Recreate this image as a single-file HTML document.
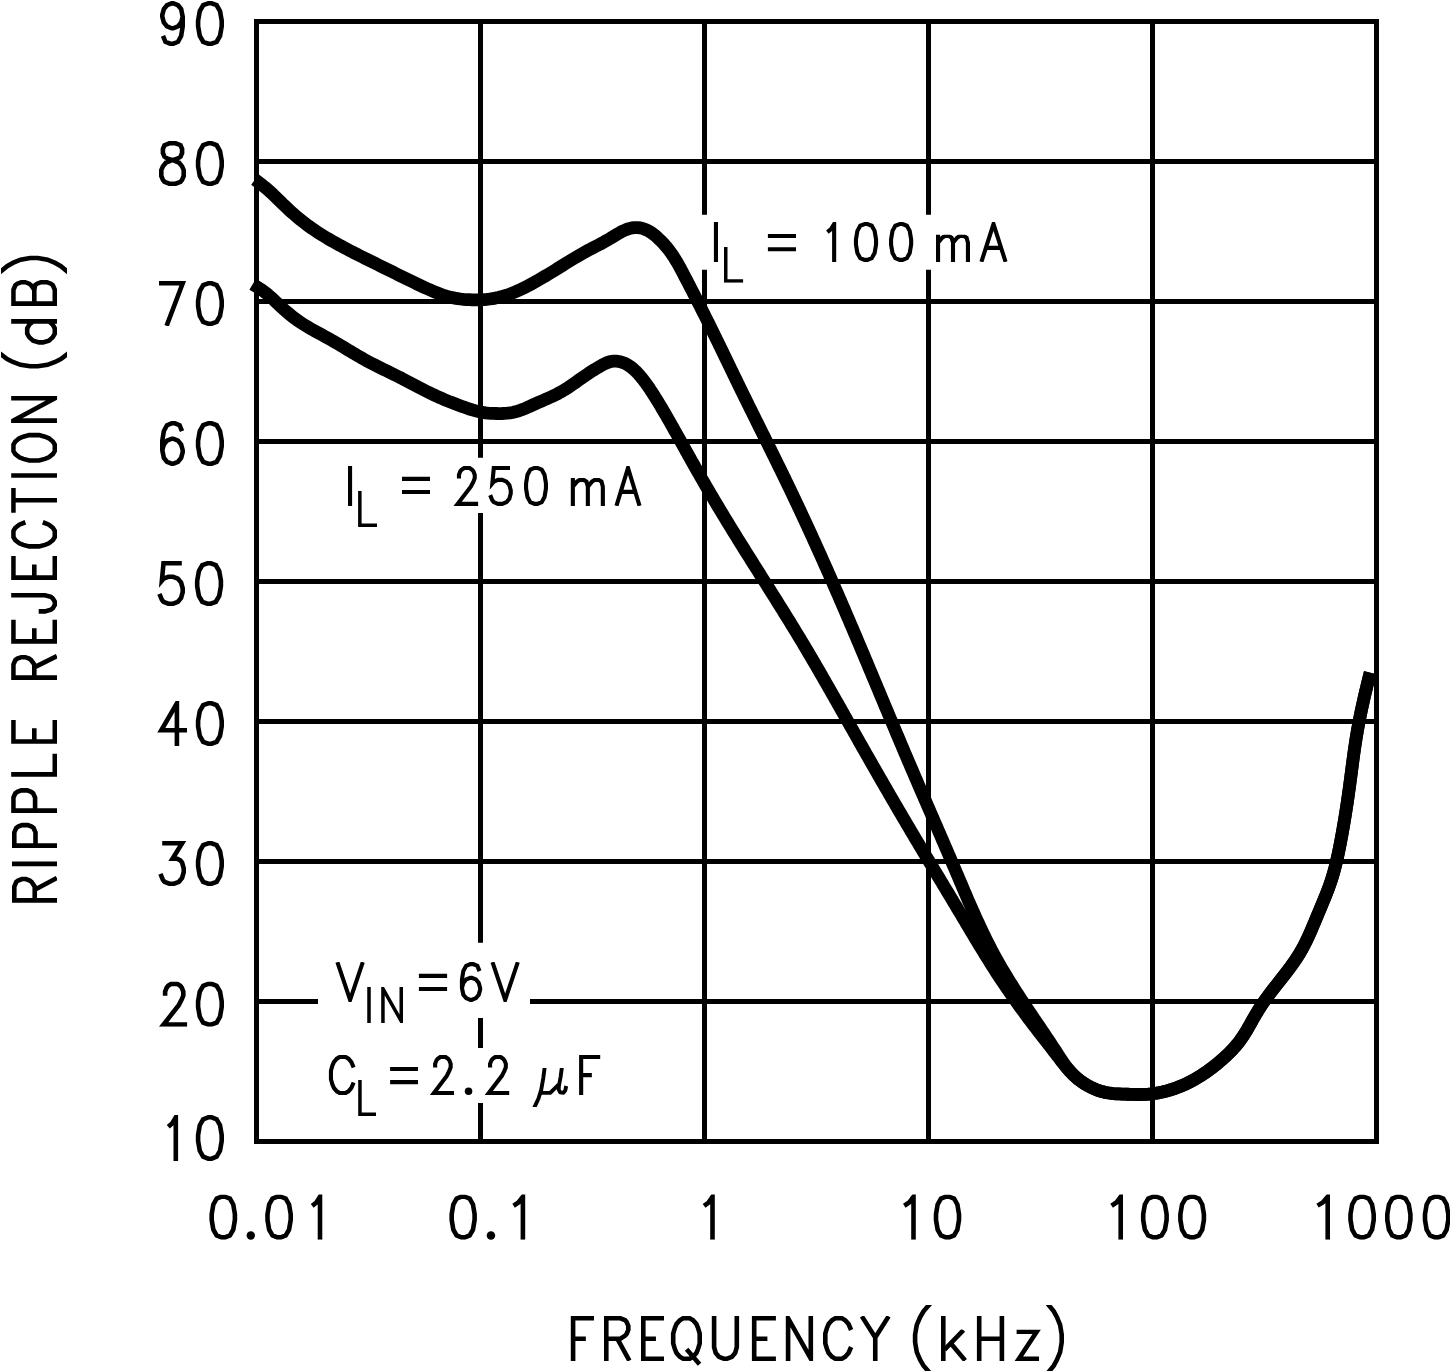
<!DOCTYPE html>
<html lang="en">
<head>
<meta charset="utf-8">
<title>Ripple Rejection vs Frequency</title>
<style>
html,body{margin:0;padding:0;background:#fff;}
body{width:1450px;height:1371px;overflow:hidden;font-family:"Liberation Sans",sans-serif;}
svg{display:block;}
.t{font-family:"Liberation Sans",sans-serif;fill:#000;fill-opacity:0;}
</style>
</head>
<body>
<svg width="1450" height="1371" viewBox="0 0 1450 1371" shape-rendering="geometricPrecision">
<rect x="0" y="0" width="1450" height="1371" fill="#fff"/>
<path d="M254 21.5H1379 M254 1141.5H1379 M256.5 19V1144 M1376.5 19V1144 M256.5 301.5H1376.5 M256.5 441.5H1376.5 M256.5 581.5H1376.5 M256.5 721.5H1376.5 M256.5 861.5H1376.5 M256.5 161.5H1376.5 M256.5 1001.5H318 M530 1001.5H1376.5 M480.5 21.5V457.7 M480.5 513.1V942.8 M480.5 1018.1V1047.9 M480.5 1103V1141.5 M704.5 21.5V214.7 M704.5 269.8V1141.5 M928.5 21.5V214.7 M928.5 269.8V1141.5 M1152.5 21.5V1141.5" fill="none" stroke="#000" stroke-width="5"/>
<path d="M255.05 179.61 L256.7 180.86 L259.02 182.62 L261.31 184.4 L263.59 186.21 L265.83 188.05 L268.04 189.93 L270.22 191.85 L272.35 193.81 L274.46 195.81 L276.54 197.83 L278.62 199.86 L280.69 201.9 L282.76 203.94 L284.85 205.96 L286.96 207.97 L289.09 209.95 L291.24 211.9 L293.41 213.83 L295.61 215.73 L297.84 217.61 L300.08 219.45 L302.35 221.27 L304.64 223.05 L306.96 224.8 L309.3 226.52 L311.67 228.2 L314.06 229.85 L316.47 231.47 L318.9 233.06 L321.35 234.61 L323.82 236.14 L326.3 237.65 L328.8 239.13 L331.32 240.59 L333.85 242.03 L336.39 243.45 L338.94 244.85 L341.49 246.23 L344.06 247.6 L346.63 248.96 L349.21 250.31 L351.79 251.64 L354.38 252.97 L356.97 254.28 L359.56 255.59 L362.16 256.89 L364.76 258.19 L367.36 259.48 L369.96 260.77 L372.57 262.05 L375.17 263.34 L377.77 264.62 L380.37 265.9 L382.97 267.19 L385.57 268.48 L388.17 269.77 L390.77 271.06 L393.36 272.35 L395.95 273.64 L398.55 274.94 L401.15 276.23 L403.75 277.51 L406.35 278.8 L408.96 280.07 L411.57 281.34 L414.19 282.61 L416.81 283.86 L419.44 285.11 L422.08 286.35 L424.73 287.57 L427.38 288.78 L430.05 289.97 L432.73 291.13 L435.42 292.24 L438.13 293.31 L440.86 294.32 L443.61 295.26 L446.38 296.12 L449.17 296.89 L451.99 297.57 L454.83 298.14 L457.69 298.61 L460.58 299 L463.47 299.3 L466.37 299.53 L469.28 299.69 L472.19 299.79 L475.1 299.84 L478.01 299.82 L480.91 299.73 L483.81 299.56 L486.71 299.32 L489.59 298.99 L492.47 298.58 L495.34 298.08 L498.19 297.49 L501.02 296.81 L503.82 296.04 L506.59 295.18 L509.34 294.23 L512.05 293.2 L514.74 292.1 L517.41 290.94 L520.05 289.73 L522.68 288.46 L525.28 287.17 L527.87 285.84 L530.44 284.48 L533 283.1 L535.54 281.69 L538.07 280.27 L540.59 278.82 L543.09 277.35 L545.59 275.87 L548.08 274.38 L550.56 272.87 L553.04 271.35 L555.51 269.82 L557.97 268.29 L560.44 266.75 L562.9 265.21 L565.37 263.68 L567.84 262.15 L570.31 260.63 L572.79 259.12 L575.28 257.62 L577.78 256.15 L580.3 254.69 L582.82 253.26 L585.37 251.86 L587.92 250.48 L590.49 249.12 L593.07 247.78 L595.65 246.44 L598.23 245.09 L600.8 243.73 L603.35 242.36 L605.89 240.95 L608.41 239.51 L610.9 238.03 L613.37 236.5 L615.83 234.98 L618.32 233.48 L620.86 232.06 L623.46 230.75 L626.15 229.58 L628.93 228.62 L631.77 227.92 L634.65 227.54 L637.56 227.54 L640.45 227.92 L643.29 228.65 L646.04 229.69 L648.66 230.99 L651.14 232.51 L653.5 234.21 L655.76 236.06 L657.94 238.01 L660.04 240.02 L662.09 242.1 L664.07 244.23 L665.98 246.42 L667.83 248.66 L669.6 250.96 L671.31 253.3 L672.94 255.7 L674.52 258.13 L676.04 260.6 L677.51 263.1 L678.95 265.63 L680.35 268.18 L681.73 270.75 L683.09 273.33 L684.44 275.91 L685.78 278.49 L687.13 281.07 L688.47 283.66 L689.81 286.24 L691.14 288.82 L692.48 291.4 L693.81 293.98 L695.14 296.56 L696.46 299.14 L697.79 301.72 L699.11 304.31 L700.42 306.89 L701.74 309.48 L703.04 312.07 L704.35 314.66 L705.65 317.25 L706.95 319.84 L708.24 322.44 L709.53 325.04 L710.81 327.64 L712.1 330.25 L713.38 332.85 L714.65 335.46 L715.93 338.07 L717.2 340.68 L718.47 343.29 L719.74 345.9 L721.01 348.51 L722.28 351.13 L723.54 353.74 L724.81 356.36 L726.07 358.97 L727.33 361.59 L728.6 364.21 L729.86 366.82 L731.13 369.44 L732.39 372.05 L733.66 374.67 L734.92 377.28 L736.19 379.9 L737.46 382.51 L738.73 385.12 L740 387.73 L741.28 390.34 L742.56 392.95 L743.84 395.56 L745.12 398.17 L746.4 400.77 L747.68 403.38 L748.97 405.98 L750.26 408.59 L751.55 411.19 L752.83 413.79 L754.12 416.39 L755.41 419 L756.71 421.6 L758 424.2 L759.29 426.8 L760.58 429.4 L761.87 432 L763.17 434.6 L764.46 437.2 L765.75 439.8 L767.04 442.4 L768.33 445.01 L769.62 447.61 L770.91 450.21 L772.19 452.81 L773.48 455.42 L774.76 458.02 L776.05 460.62 L777.33 463.23 L778.61 465.84 L779.89 468.44 L781.16 471.05 L782.44 473.66 L783.71 476.27 L784.98 478.88 L786.25 481.49 L787.51 484.11 L788.77 486.72 L790.03 489.34 L791.28 491.96 L792.54 494.58 L793.78 497.2 L795.03 499.82 L796.27 502.45 L797.51 505.07 L798.75 507.7 L799.99 510.33 L801.22 512.96 L802.45 515.59 L803.67 518.22 L804.89 520.85 L806.12 523.49 L807.33 526.12 L808.55 528.76 L809.76 531.4 L810.97 534.04 L812.18 536.68 L813.38 539.32 L814.59 541.97 L815.79 544.61 L816.98 547.26 L818.18 549.9 L819.37 552.55 L820.56 555.2 L821.75 557.85 L822.93 560.5 L824.12 563.15 L825.3 565.81 L826.48 568.46 L827.66 571.12 L828.83 573.77 L830 576.43 L831.17 579.09 L832.34 581.75 L833.51 584.41 L834.67 587.07 L835.84 589.73 L837 592.39 L838.16 595.06 L839.31 597.72 L840.47 600.39 L841.62 603.05 L842.77 605.72 L843.92 608.39 L845.07 611.06 L846.22 613.72 L847.36 616.39 L848.5 619.06 L849.65 621.73 L850.79 624.41 L851.93 627.08 L853.06 629.75 L854.2 632.42 L855.33 635.1 L856.47 637.77 L857.6 640.45 L858.73 643.12 L859.86 645.8 L860.99 648.48 L862.12 651.15 L863.24 653.83 L864.37 656.51 L865.49 659.18 L866.62 661.86 L867.74 664.54 L868.86 667.22 L869.99 669.9 L871.11 672.58 L872.23 675.26 L873.35 677.93 L874.47 680.61 L875.59 683.29 L876.72 685.97 L877.84 688.65 L878.96 691.33 L880.08 694.01 L881.2 696.69 L882.32 699.37 L883.44 702.05 L884.56 704.73 L885.68 707.41 L886.8 710.08 L887.92 712.76 L889.05 715.44 L890.17 718.12 L891.29 720.8 L892.42 723.47 L893.54 726.15 L894.67 728.83 L895.79 731.5 L896.92 734.18 L898.05 736.85 L899.18 739.53 L900.31 742.2 L901.44 744.88 L902.57 747.55 L903.7 750.22 L904.84 752.9 L905.97 755.57 L907.11 758.24 L908.25 760.91 L909.39 763.58 L910.53 766.25 L911.68 768.91 L912.82 771.58 L913.97 774.25 L915.11 776.91 L916.26 779.58 L917.41 782.24 L918.56 784.91 L919.72 787.57 L920.87 790.24 L922.02 792.9 L923.18 795.56 L924.33 798.23 L925.49 800.89 L926.64 803.55 L927.8 806.22 L928.96 808.88 L930.11 811.54 L931.27 814.2 L932.43 816.87 L933.58 819.53 L934.74 822.19 L935.9 824.86 L937.05 827.52 L938.21 830.19 L939.36 832.85 L940.52 835.51 L941.67 838.18 L942.82 840.85 L943.97 843.51 L945.12 846.18 L946.27 848.85 L947.42 851.52 L948.57 854.19 L949.72 856.86 L950.86 859.53 L952 862.2 L953.14 864.88 L954.28 867.55 L955.42 870.23 L956.56 872.9 L957.69 875.58 L958.83 878.26 L959.96 880.94 L961.1 883.61 L962.23 886.29 L963.37 888.97 L964.51 891.64 L965.66 894.32 L966.8 896.99 L967.95 899.66 L969.11 902.33 L970.27 904.99 L971.44 907.65 L972.61 910.31 L973.79 912.97 L974.98 915.62 L976.18 918.27 L977.38 920.91 L978.6 923.55 L979.82 926.18 L981.06 928.81 L982.3 931.43 L983.56 934.05 L984.83 936.65 L986.12 939.26 L987.41 941.85 L988.72 944.44 L990.05 947.02 L991.39 949.6 L992.74 952.16 L994.12 954.72 L995.51 957.26 L996.91 959.8 L998.34 962.33 L999.77 964.86 L1001.23 967.37 L1002.69 969.88 L1004.18 972.37 L1005.67 974.87 L1007.18 977.35 L1008.7 979.83 L1010.23 982.3 L1011.77 984.76 L1013.32 987.22 L1014.88 989.67 L1016.45 992.12 L1018.03 994.56 L1019.61 997 L1021.21 999.43 L1022.8 1001.86 L1024.41 1004.28 L1026.02 1006.7 L1027.63 1009.11 L1029.25 1011.52 L1030.87 1013.93 L1032.5 1016.33 L1034.12 1018.73 L1035.75 1021.13 L1037.38 1023.53 L1039 1025.93 L1040.63 1028.33 L1042.26 1030.74 L1043.88 1033.14 L1045.5 1035.55 L1047.12 1037.96 L1048.73 1040.38 L1050.33 1042.8 L1051.93 1045.23 L1053.53 1047.67 L1055.12 1050.11 L1056.7 1052.56 L1058.27 1055.02 L1059.86 1057.47 L1061.47 1059.9 L1063.11 1062.31 L1064.8 1064.68 L1066.53 1067 L1068.34 1069.27 L1070.22 1071.47 L1072.19 1073.6 L1074.25 1075.64 L1076.4 1077.6 L1078.64 1079.46 L1080.96 1081.23 L1083.35 1082.91 L1085.81 1084.48 L1088.34 1085.95 L1090.93 1087.31 L1093.58 1088.55 L1096.27 1089.67 L1099.01 1090.67 L1101.79 1091.52 L1104.6 1092.23 L1107.44 1092.79 L1110.31 1093.22 L1113.19 1093.54 L1116.09 1093.77 L1119 1093.94 L1121.92 1094.06 L1124.83 1094.16 L1127.75 1094.27 L1130.66 1094.36 L1133.57 1094.44 L1136.48 1094.49 L1139.38 1094.49 L1142.28 1094.45 L1145.17 1094.34 L1148.07 1094.15 L1150.95 1093.89 L1153.84 1093.53 L1156.71 1093.1 L1159.58 1092.58 L1162.43 1091.99 L1165.26 1091.31 L1168.08 1090.56 L1170.87 1089.74 L1173.64 1088.84 L1176.39 1087.88 L1179.11 1086.84 L1181.81 1085.74 L1184.47 1084.57 L1187.11 1083.34 L1189.72 1082.05 L1192.29 1080.7 L1194.83 1079.29 L1197.34 1077.83 L1199.82 1076.32 L1202.26 1074.75 L1204.67 1073.14 L1207.06 1071.48 L1209.41 1069.77 L1211.74 1068.03 L1214.04 1066.25 L1216.32 1064.43 L1218.58 1062.57 L1220.81 1060.69 L1223.01 1058.77 L1225.18 1056.81 L1227.32 1054.81 L1229.4 1052.78 L1231.44 1050.7 L1233.43 1048.57 L1235.36 1046.4 L1237.23 1044.18 L1239.03 1041.91 L1240.75 1039.59 L1242.41 1037.21 L1243.99 1034.79 L1245.53 1032.33 L1247.02 1029.84 L1248.48 1027.33 L1249.91 1024.8 L1251.34 1022.26 L1252.76 1019.71 L1254.19 1017.18 L1255.65 1014.66 L1257.13 1012.16 L1258.65 1009.68 L1260.21 1007.24 L1261.82 1004.82 L1263.46 1002.43 L1265.13 1000.05 L1266.83 997.7 L1268.56 995.37 L1270.3 993.04 L1272.07 990.73 L1273.85 988.43 L1275.64 986.14 L1277.44 983.85 L1279.25 981.56 L1281.05 979.27 L1282.85 976.98 L1284.64 974.68 L1286.42 972.37 L1288.18 970.05 L1289.92 967.72 L1291.64 965.37 L1293.32 963.01 L1294.97 960.62 L1296.57 958.21 L1298.14 955.77 L1299.65 953.31 L1301.12 950.82 L1302.53 948.29 L1303.9 945.74 L1305.22 943.16 L1306.5 940.56 L1307.75 937.94 L1308.96 935.3 L1310.15 932.65 L1311.32 929.98 L1312.47 927.31 L1313.61 924.62 L1314.74 921.93 L1315.86 919.24 L1316.98 916.55 L1318.1 913.86 L1319.23 911.17 L1320.36 908.49 L1321.49 905.8 L1322.61 903.12 L1323.72 900.43 L1324.82 897.74 L1325.9 895.05 L1326.96 892.35 L1327.99 889.64 L1329 886.92 L1329.97 884.19 L1330.9 881.45 L1331.79 878.69 L1332.65 875.92 L1333.46 873.14 L1334.24 870.34 L1334.99 867.54 L1335.7 864.72 L1336.39 861.9 L1337.05 859.07 L1337.69 856.23 L1338.3 853.38 L1338.89 850.53 L1339.47 847.68 L1340.03 844.82 L1340.58 841.96 L1341.12 839.11 L1341.65 836.25 L1342.17 833.38 L1342.68 830.52 L1343.19 827.66 L1343.68 824.8 L1344.17 821.93 L1344.65 819.07 L1345.11 816.2 L1345.57 813.34 L1346.03 810.47 L1346.47 807.6 L1346.91 804.73 L1347.34 801.86 L1347.76 798.99 L1348.17 796.12 L1348.58 793.24 L1348.98 790.37 L1349.37 787.49 L1349.76 784.62 L1350.14 781.74 L1350.52 778.86 L1350.9 775.98 L1351.27 773.1 L1351.64 770.22 L1352.02 767.34 L1352.39 764.46 L1352.77 761.58 L1353.16 758.7 L1353.55 755.82 L1353.95 752.94 L1354.35 750.07 L1354.77 747.19 L1355.19 744.32 L1355.63 741.45 L1356.08 738.58 L1356.55 735.71 L1357.03 732.85 L1357.53 729.99 L1358.04 727.13 L1358.57 724.28 L1359.11 721.42 L1359.67 718.57 L1360.24 715.72 L1360.82 712.88 L1361.42 710.04 L1362.02 707.2 L1362.65 704.36 L1363.28 701.52 L1363.92 698.69 L1364.57 695.86 L1365.23 693.03 L1365.9 690.21 L1366.58 687.38 L1367.27 684.56 L1367.96 681.74 L1368.65 678.92 L1369.35 676.1 L1370.05 673.28 L1370.2 672.68" fill="none" stroke="#000" stroke-width="12.8" stroke-linejoin="round" stroke-linecap="butt"/>
<path d="M252.65 284.23 L254.7 285.44 L257.02 286.86 L259.31 288.32 L261.56 289.82 L263.78 291.39 L265.94 293.02 L268.04 294.72 L270.08 296.49 L272.09 298.3 L274.07 300.15 L276.04 302.03 L278 303.9 L279.98 305.77 L281.97 307.62 L283.98 309.44 L286.02 311.24 L288.09 313 L290.18 314.74 L292.29 316.43 L294.44 318.08 L296.62 319.7 L298.82 321.26 L301.06 322.78 L303.33 324.25 L305.63 325.68 L307.94 327.07 L310.28 328.44 L312.64 329.78 L315.01 331.1 L317.39 332.4 L319.77 333.7 L322.16 334.99 L324.55 336.29 L326.93 337.59 L329.31 338.9 L331.67 340.23 L334.03 341.58 L336.37 342.95 L338.71 344.33 L341.04 345.72 L343.36 347.11 L345.68 348.51 L348 349.91 L350.33 351.31 L352.65 352.7 L354.98 354.08 L357.31 355.45 L359.66 356.81 L362.01 358.15 L364.37 359.47 L366.75 360.77 L369.13 362.04 L371.53 363.3 L373.94 364.54 L376.35 365.77 L378.78 366.98 L381.2 368.19 L383.63 369.39 L386.07 370.58 L388.5 371.78 L390.93 372.97 L393.37 374.18 L395.79 375.38 L398.22 376.6 L400.64 377.83 L403.05 379.07 L405.45 380.33 L407.86 381.59 L410.26 382.85 L412.65 384.12 L415.05 385.39 L417.45 386.65 L419.85 387.91 L422.26 389.16 L424.67 390.39 L427.09 391.61 L429.51 392.81 L431.95 393.99 L434.39 395.15 L436.85 396.28 L439.32 397.38 L441.8 398.46 L444.29 399.52 L446.8 400.55 L449.31 401.57 L451.83 402.56 L454.36 403.54 L456.9 404.5 L459.45 405.45 L462 406.39 L464.56 407.31 L467.13 408.21 L469.71 409.07 L472.3 409.89 L474.91 410.64 L477.53 411.32 L480.16 411.92 L482.82 412.41 L485.49 412.8 L488.18 413.1 L490.88 413.31 L493.6 413.45 L496.32 413.52 L499.05 413.54 L501.78 413.51 L504.51 413.4 L507.22 413.2 L509.91 412.89 L512.57 412.45 L515.2 411.87 L517.79 411.14 L520.35 410.29 L522.88 409.33 L525.39 408.29 L527.89 407.2 L530.38 406.08 L532.86 404.94 L535.35 403.81 L537.85 402.71 L540.34 401.62 L542.84 400.55 L545.33 399.47 L547.82 398.38 L550.29 397.27 L552.74 396.14 L555.17 394.97 L557.58 393.75 L559.96 392.47 L562.31 391.13 L564.62 389.74 L566.91 388.29 L569.18 386.8 L571.43 385.28 L573.67 383.73 L575.89 382.17 L578.11 380.6 L580.32 379.03 L582.53 377.48 L584.75 375.94 L586.98 374.42 L589.22 372.93 L591.48 371.46 L593.77 370.01 L596.08 368.58 L598.43 367.18 L600.82 365.8 L603.25 364.47 L605.73 363.27 L608.26 362.26 L610.85 361.53 L613.5 361.14 L616.2 361.13 L618.92 361.48 L621.6 362.15 L624.21 363.1 L626.7 364.29 L629.04 365.69 L631.26 367.27 L633.36 368.99 L635.35 370.84 L637.26 372.78 L639.1 374.79 L640.87 376.84 L642.59 378.95 L644.25 381.09 L645.86 383.27 L647.44 385.47 L648.98 387.71 L650.49 389.96 L651.98 392.23 L653.45 394.51 L654.9 396.8 L656.34 399.1 L657.76 401.41 L659.17 403.72 L660.57 406.04 L661.95 408.37 L663.33 410.71 L664.69 413.05 L666.05 415.39 L667.4 417.74 L668.75 420.09 L670.09 422.45 L671.43 424.81 L672.76 427.16 L674.09 429.52 L675.42 431.89 L676.74 434.25 L678.07 436.61 L679.39 438.98 L680.71 441.35 L682.03 443.71 L683.35 446.08 L684.67 448.45 L685.99 450.81 L687.31 453.18 L688.63 455.55 L689.95 457.91 L691.28 460.28 L692.6 462.64 L693.93 465 L695.26 467.36 L696.6 469.72 L697.93 472.08 L699.28 474.43 L700.62 476.79 L701.97 479.14 L703.32 481.48 L704.68 483.83 L706.04 486.17 L707.4 488.51 L708.77 490.85 L710.14 493.19 L711.52 495.53 L712.9 497.86 L714.28 500.19 L715.66 502.52 L717.05 504.85 L718.45 507.17 L719.84 509.49 L721.24 511.82 L722.64 514.14 L724.04 516.45 L725.45 518.77 L726.86 521.09 L728.27 523.4 L729.68 525.71 L731.1 528.02 L732.52 530.33 L733.94 532.64 L735.36 534.94 L736.79 537.25 L738.22 539.55 L739.65 541.86 L741.08 544.16 L742.51 546.46 L743.95 548.76 L745.39 551.06 L746.82 553.35 L748.26 555.65 L749.71 557.94 L751.15 560.24 L752.59 562.53 L754.04 564.83 L755.48 567.12 L756.93 569.41 L758.37 571.7 L759.82 573.99 L761.27 576.29 L762.72 578.58 L764.16 580.87 L765.61 583.16 L767.06 585.45 L768.5 587.75 L769.95 590.04 L771.39 592.33 L772.84 594.62 L774.28 596.92 L775.72 599.21 L777.16 601.51 L778.6 603.8 L780.04 606.1 L781.47 608.4 L782.91 610.7 L784.34 613 L785.77 615.3 L787.19 617.61 L788.62 619.91 L790.04 622.22 L791.46 624.52 L792.88 626.83 L794.29 629.14 L795.7 631.46 L797.11 633.77 L798.51 636.09 L799.91 638.41 L801.31 640.73 L802.7 643.05 L804.09 645.38 L805.48 647.71 L806.86 650.04 L808.24 652.37 L809.62 654.7 L810.99 657.04 L812.37 659.37 L813.73 661.71 L815.1 664.05 L816.46 666.4 L817.82 668.74 L819.18 671.08 L820.54 673.43 L821.89 675.78 L823.24 678.13 L824.59 680.48 L825.94 682.83 L827.29 685.18 L828.63 687.53 L829.97 689.89 L831.32 692.24 L832.66 694.6 L834 696.95 L835.33 699.31 L836.67 701.67 L838.01 704.02 L839.34 706.38 L840.68 708.74 L842.01 711.1 L843.34 713.46 L844.68 715.82 L846.01 718.18 L847.34 720.54 L848.67 722.9 L850.01 725.26 L851.34 727.62 L852.67 729.98 L854 732.34 L855.34 734.7 L856.67 737.06 L858.01 739.42 L859.34 741.78 L860.68 744.14 L862.02 746.5 L863.35 748.85 L864.69 751.21 L866.03 753.56 L867.37 755.92 L868.72 758.27 L870.06 760.63 L871.4 762.98 L872.75 765.33 L874.09 767.69 L875.44 770.04 L876.79 772.39 L878.14 774.74 L879.49 777.09 L880.84 779.44 L882.19 781.79 L883.55 784.14 L884.9 786.48 L886.26 788.83 L887.61 791.17 L888.97 793.52 L890.33 795.86 L891.69 798.21 L893.05 800.55 L894.42 802.89 L895.78 805.23 L897.15 807.57 L898.52 809.91 L899.89 812.25 L901.26 814.59 L902.63 816.92 L904 819.26 L905.38 821.6 L906.75 823.93 L908.13 826.26 L909.51 828.6 L910.89 830.93 L912.27 833.26 L913.65 835.59 L915.04 837.92 L916.42 840.25 L917.81 842.57 L919.2 844.9 L920.59 847.23 L921.98 849.55 L923.38 851.87 L924.77 854.2 L926.16 856.52 L927.56 858.84 L928.96 861.17 L930.35 863.49 L931.75 865.81 L933.15 868.13 L934.55 870.45 L935.95 872.77 L937.34 875.09 L938.74 877.42 L940.14 879.74 L941.54 882.06 L942.94 884.38 L944.34 886.7 L945.74 889.02 L947.13 891.34 L948.53 893.66 L949.93 895.99 L951.32 898.31 L952.72 900.63 L954.11 902.96 L955.51 905.28 L956.9 907.61 L958.29 909.93 L959.68 912.26 L961.07 914.59 L962.46 916.92 L963.84 919.25 L965.23 921.58 L966.61 923.9 L968 926.23 L969.39 928.56 L970.78 930.89 L972.17 933.22 L973.56 935.54 L974.95 937.87 L976.35 940.19 L977.75 942.51 L979.15 944.83 L980.55 947.15 L981.96 949.46 L983.38 951.78 L984.79 954.08 L986.22 956.39 L987.65 958.69 L989.08 960.99 L990.52 963.29 L991.97 965.58 L993.42 967.86 L994.88 970.15 L996.35 972.42 L997.83 974.7 L999.31 976.96 L1000.81 979.23 L1002.31 981.48 L1003.82 983.73 L1005.34 985.98 L1006.86 988.22 L1008.4 990.45 L1009.94 992.68 L1011.49 994.91 L1013.05 997.13 L1014.61 999.34 L1016.19 1001.55 L1017.76 1003.76 L1019.35 1005.96 L1020.94 1008.15 L1022.54 1010.34 L1024.14 1012.52 L1025.75 1014.7 L1027.37 1016.88 L1028.99 1019.05 L1030.62 1021.22 L1032.25 1023.38 L1033.89 1025.53 L1035.53 1027.69 L1037.18 1029.83 L1038.83 1031.98 L1040.49 1034.12 L1042.15 1036.26 L1043.81 1038.4 L1045.47 1040.53 L1047.13 1042.67 L1048.8 1044.81 L1050.46 1046.95 L1052.12 1049.09 L1053.78 1051.24 L1055.44 1053.38 L1057.1 1055.54 L1058.75 1057.7 L1060.4 1059.86 L1062.06 1062.01 L1063.74 1064.15 L1065.44 1066.27 L1067.18 1068.35 L1068.96 1070.39 L1070.8 1072.38 L1072.69 1074.31 L1074.66 1076.17 L1076.7 1077.95 L1078.81 1079.66 L1080.99 1081.29 L1083.23 1082.83 L1085.52 1084.29 L1087.88 1085.67 L1090.28 1086.95 L1092.74 1088.14 L1095.23 1089.22 L1097.77 1090.2 L1100.34 1091.07 L1102.95 1091.81 L1105.58 1092.42 L1108.24 1092.91 L1110.92 1093.28 L1113.61 1093.57 L1116.32 1093.77 L1119.04 1093.93 L1121.76 1094.04 L1124.48 1094.14 L1127.2 1094.24 L1129.92 1094.33 L1132.64 1094.42 L1135.35 1094.48 L1138.06 1094.51 L1140.76 1094.49 L1143.47 1094.43 L1146.17 1094.31 L1148.87 1094.11 L1151.56 1093.84 L1154.25 1093.5 L1156.93 1093.08 L1159.6 1092.59 L1162.26 1092.03 L1164.91 1091.4 L1167.54 1090.71 L1170.15 1089.95 L1172.74 1089.14 L1175.32 1088.26 L1177.86 1087.32 L1180.39 1086.32 L1182.9 1085.26 L1185.37 1084.15 L1187.83 1082.99 L1190.25 1081.77 L1192.65 1080.51 L1195.02 1079.19 L1197.36 1077.82 L1199.67 1076.41 L1201.95 1074.95 L1204.21 1073.46 L1206.44 1071.92 L1208.64 1070.34 L1210.83 1068.72 L1212.99 1067.07 L1215.12 1065.39 L1217.24 1063.68 L1219.33 1061.94 L1221.41 1060.17 L1223.46 1058.36 L1225.47 1056.53 L1227.46 1054.66 L1229.4 1052.76 L1231.31 1050.82 L1233.17 1048.84 L1234.98 1046.82 L1236.73 1044.76 L1238.43 1042.66 L1240.07 1040.51 L1241.64 1038.31 L1243.16 1036.08 L1244.62 1033.8 L1246.04 1031.5 L1247.42 1029.17 L1248.78 1026.82 L1250.12 1024.46 L1251.45 1022.09 L1252.78 1019.72 L1254.12 1017.35 L1255.47 1015 L1256.85 1012.66 L1258.26 1010.35 L1259.71 1008.06 L1261.19 1005.79 L1262.7 1003.54 L1264.24 1001.32 L1265.81 999.11 L1267.4 996.92 L1269.01 994.74 L1270.64 992.57 L1272.29 990.41 L1273.95 988.26 L1275.62 986.12 L1277.3 983.98 L1278.98 981.85 L1280.67 979.71 L1282.35 977.57 L1284.03 975.43 L1285.7 973.28 L1287.35 971.13 L1288.99 968.96 L1290.61 966.78 L1292.2 964.59 L1293.77 962.38 L1295.3 960.15 L1296.8 957.9 L1298.26 955.63 L1299.67 953.33 L1301.04 951.01 L1302.36 948.65 L1303.64 946.28 L1304.89 943.87 L1306.09 941.45 L1307.26 939.01 L1308.41 936.56 L1309.53 934.09 L1310.63 931.6 L1311.71 929.11 L1312.77 926.61 L1313.83 924.1 L1314.87 921.59 L1315.92 919.07 L1316.96 916.56 L1318.01 914.05 L1319.06 911.54 L1320.11 909.03 L1321.16 906.53 L1322.21 904.03 L1323.26 901.52 L1324.29 899.01 L1325.31 896.5 L1326.31 893.98 L1327.29 891.46 L1328.25 888.93 L1329.19 886.39 L1330.09 883.85 L1330.96 881.29 L1331.79 878.71 L1332.59 876.13 L1333.36 873.53 L1334.09 870.93 L1334.79 868.31 L1335.47 865.69 L1336.12 863.06 L1336.74 860.42 L1337.35 857.77 L1337.93 855.12 L1338.5 852.46 L1339.05 849.8 L1339.58 847.14 L1340.1 844.47 L1340.61 841.8 L1341.12 839.14 L1341.61 836.47 L1342.1 833.8 L1342.58 831.13 L1343.05 828.46 L1343.51 825.78 L1343.97 823.11 L1344.41 820.44 L1344.86 817.77 L1345.29 815.09 L1345.72 812.42 L1346.14 809.74 L1346.55 807.06 L1346.96 804.39 L1347.36 801.71 L1347.75 799.03 L1348.14 796.35 L1348.52 793.67 L1348.89 790.98 L1349.26 788.3 L1349.63 785.61 L1349.98 782.93 L1350.34 780.24 L1350.69 777.55 L1351.04 774.87 L1351.39 772.18 L1351.74 769.49 L1352.09 766.8 L1352.44 764.12 L1352.79 761.43 L1353.15 758.74 L1353.52 756.06 L1353.89 753.37 L1354.27 750.69 L1354.65 748.01 L1355.05 745.32 L1355.45 742.65 L1355.87 739.97 L1356.29 737.29 L1356.73 734.62 L1357.19 731.95 L1357.65 729.28 L1358.13 726.61 L1358.63 723.95 L1359.14 721.28 L1359.66 718.62 L1360.19 715.97 L1360.73 713.31 L1361.28 710.66 L1361.85 708.01 L1362.42 705.36 L1363.01 702.71 L1363.61 700.07 L1364.21 697.42 L1364.82 694.78 L1365.44 692.15 L1366.07 689.51 L1366.7 686.88 L1367.34 684.24 L1367.99 681.61 L1368.64 678.98 L1369.29 676.35 L1369.94 673.72 L1370.2 672.69" fill="none" stroke="#000" stroke-width="12.8" stroke-linejoin="round" stroke-linecap="butt"/>
<clipPath id="c1"><rect x="-50" y="1" width="1600" height="45"/></clipPath><g clip-path="url(#c1)"><path d="M182.7 16.77 L181.13 22.54 L177.99 26.39 L173.28 28.31 L171.72 28.31 L167.01 26.39 L163.87 22.54 L162.3 16.77 L162.3 14.84 L163.87 9.07 L167.01 5.22 L171.72 3.3 L173.28 3.3 L177.99 5.22 L181.13 9.07 L182.7 16.77 L182.7 26.39 L181.13 36 L177.99 41.78 L173.28 43.7 L170.15 43.7 L165.44 41.78 L163 35.8 M208.21 3.3 L203.16 5.22 L199.79 11 L198.1 20.61 L198.1 26.39 L199.79 36 L203.16 41.78 L208.21 43.7 L211.59 43.7 L216.64 41.78 L220.01 36 L221.7 26.39 L221.7 20.61 L220.01 11 L216.64 5.22 L211.59 3.3Z" fill="none" stroke="#000" stroke-width="4.6" stroke-linecap="butt" stroke-linejoin="miter" stroke-miterlimit="6"/></g>
<clipPath id="c2"><rect x="-50" y="141" width="1600" height="45"/></clipPath><g clip-path="url(#c2)"><path d="M169.3 143.3 L164.5 145.22 L162.9 149.07 L162.9 152.92 L164.5 156.77 L167.7 158.69 L174.1 160.61 L178.9 162.54 L182.1 166.39 L183.7 170.23 L183.7 176 L182.1 179.85 L180.5 181.78 L175.7 183.7 L169.3 183.7 L164.5 181.78 L162.9 179.85 L161.3 176 L161.3 170.23 L162.9 166.39 L166.1 162.54 L170.9 160.61 L177.3 158.69 L180.5 156.77 L182.1 152.92 L182.1 149.07 L180.5 145.22 L175.7 143.3Z M208.21 143.3 L203.16 145.22 L199.79 151 L198.1 160.61 L198.1 166.39 L199.79 176 L203.16 181.78 L208.21 183.7 L211.59 183.7 L216.64 181.78 L220.01 176 L221.7 166.39 L221.7 160.61 L220.01 151 L216.64 145.22 L211.59 143.3Z" fill="none" stroke="#000" stroke-width="4.6" stroke-linecap="butt" stroke-linejoin="miter" stroke-miterlimit="6"/></g>
<clipPath id="c3"><rect x="-50" y="281" width="1600" height="45"/></clipPath><g clip-path="url(#c3)"><path d="M166.6 325.85 L182.7 283.3 L159 283.3 M208.21 283.3 L203.16 285.22 L199.79 291 L198.1 300.61 L198.1 306.39 L199.79 316 L203.16 321.78 L208.21 323.7 L211.59 323.7 L216.64 321.78 L220.01 316 L221.7 306.39 L221.7 300.61 L220.01 291 L216.64 285.22 L211.59 283.3Z" fill="none" stroke="#000" stroke-width="4.6" stroke-linecap="butt" stroke-linejoin="miter" stroke-miterlimit="6"/></g>
<clipPath id="c4"><rect x="-50" y="421" width="1600" height="45"/></clipPath><g clip-path="url(#c4)"><path d="M182 431.2 L179.56 425.22 L174.85 423.3 L171.72 423.3 L167.01 425.22 L163.87 431 L162.3 440.61 L162.3 450.23 L163.87 457.93 L167.01 461.78 L171.72 463.7 L173.28 463.7 L177.99 461.78 L181.13 457.93 L182.7 452.16 L182.7 450.23 L181.13 444.46 L177.99 440.61 L173.28 438.69 L171.72 438.69 L167.01 440.61 L163.87 444.46 L162.3 450.23 M208.21 423.3 L203.16 425.22 L199.79 431 L198.1 440.61 L198.1 446.39 L199.79 456 L203.16 461.78 L208.21 463.7 L211.59 463.7 L216.64 461.78 L220.01 456 L221.7 446.39 L221.7 440.61 L220.01 431 L216.64 425.22 L211.59 423.3Z" fill="none" stroke="#000" stroke-width="4.6" stroke-linecap="butt" stroke-linejoin="miter" stroke-miterlimit="6"/></g>
<clipPath id="c5"><rect x="-50" y="561" width="1600" height="45"/></clipPath><g clip-path="url(#c5)"><path d="M181.8 563.3 L163.5 563.3 L161.9 580.61 L163.5 578.69 L168.3 576.77 L173.1 576.77 L177.9 578.69 L181.1 582.54 L182.7 588.31 L182.7 592.16 L181.1 597.93 L177.9 601.78 L173.1 603.7 L168.3 603.7 L163.5 601.78 L161.9 599.85 L159.42 593.88 M207.36 563.3 L202.28 565.22 L198.89 571 L197.2 580.61 L197.2 586.39 L198.89 596 L202.28 601.78 L207.36 603.7 L210.74 603.7 L215.82 601.78 L219.21 596 L220.9 586.39 L220.9 580.61 L219.21 571 L215.82 565.22 L210.74 563.3Z" fill="none" stroke="#000" stroke-width="4.6" stroke-linecap="butt" stroke-linejoin="miter" stroke-miterlimit="6"/></g>
<clipPath id="c6"><rect x="-50" y="701" width="1600" height="45"/></clipPath><g clip-path="url(#c6)"><path d="M187 730.23 L161.3 730.23 L176.9 703.3 L176.9 746 M208.21 703.3 L203.16 705.22 L199.79 711 L198.1 720.61 L198.1 726.39 L199.79 736 L203.16 741.78 L208.21 743.7 L211.59 743.7 L216.64 741.78 L220.01 736 L221.7 726.39 L221.7 720.61 L220.01 711 L216.64 705.22 L211.59 703.3Z" fill="none" stroke="#000" stroke-width="4.6" stroke-linecap="butt" stroke-linejoin="miter" stroke-miterlimit="6"/></g>
<clipPath id="c7"><rect x="-50" y="841" width="1600" height="45"/></clipPath><g clip-path="url(#c7)"><path d="M162.2 843.3 L182.1 843.3 L172.5 858.69 L177.3 858.69 L180.5 860.61 L182.1 862.54 L183.7 868.31 L183.7 872.16 L182.1 877.93 L178.9 881.78 L174.1 883.7 L169.3 883.7 L164.5 881.78 L162.9 879.85 L160.42 873.88 M208.21 843.3 L203.16 845.22 L199.79 851 L198.1 860.61 L198.1 866.39 L199.79 876 L203.16 881.78 L208.21 883.7 L211.59 883.7 L216.64 881.78 L220.01 876 L221.7 866.39 L221.7 860.61 L220.01 851 L216.64 845.22 L211.59 843.3Z" fill="none" stroke="#000" stroke-width="4.6" stroke-linecap="butt" stroke-linejoin="miter" stroke-miterlimit="6"/></g>
<clipPath id="c8"><rect x="-50" y="981.6" width="1600" height="45.2"/></clipPath><g clip-path="url(#c8)"><path d="M165.11 995.87 L165.11 991.63 L166.63 987.77 L168.14 985.83 L171.17 983.9 L177.23 983.9 L180.26 985.83 L181.77 987.77 L183.29 991.63 L183.29 995.5 L181.77 999.37 L178.74 1005.17 L163.6 1024.5 L187.1 1024.5 M208.21 983.9 L203.16 985.83 L199.79 991.63 L198.1 1001.3 L198.1 1007.1 L199.79 1016.77 L203.16 1022.57 L208.21 1024.5 L211.59 1024.5 L216.64 1022.57 L220.01 1016.77 L221.7 1007.1 L221.7 1001.3 L220.01 991.63 L216.64 985.83 L211.59 983.9Z" fill="none" stroke="#000" stroke-width="4.6" stroke-linecap="butt" stroke-linejoin="miter" stroke-miterlimit="6"/></g>
<clipPath id="c9"><rect x="-50" y="1115" width="1600" height="46"/></clipPath><g clip-path="url(#c9)"><path d="M168.25 1126.68 L172.32 1123.21 L175.8 1117.3 L175.8 1161 M208.21 1117.3 L203.16 1119.27 L199.79 1125.19 L198.1 1135.04 L198.1 1140.96 L199.79 1150.81 L203.16 1156.73 L208.21 1158.7 L211.59 1158.7 L216.64 1156.73 L220.01 1150.81 L221.7 1140.96 L221.7 1135.04 L220.01 1125.19 L216.64 1119.27 L211.59 1117.3Z" fill="none" stroke="#000" stroke-width="4.6" stroke-linecap="butt" stroke-linejoin="miter" stroke-miterlimit="6"/></g>
<clipPath id="c10"><rect x="-50" y="1194.4" width="1600" height="45.3"/></clipPath><g clip-path="url(#c10)"><path d="M221.64 1196.7 L216.67 1198.64 L213.36 1204.45 L211.7 1214.14 L211.7 1219.96 L213.36 1229.65 L216.67 1235.46 L221.64 1237.4 L224.96 1237.4 L229.93 1235.46 L233.24 1229.65 L234.9 1219.96 L234.9 1214.14 L233.24 1204.45 L229.93 1198.64 L224.96 1196.7Z M277.44 1196.7 L272.47 1198.64 L269.16 1204.45 L267.5 1214.14 L267.5 1219.96 L269.16 1229.65 L272.47 1235.46 L277.44 1237.4 L280.76 1237.4 L285.73 1235.46 L289.04 1229.65 L290.7 1219.96 L290.7 1214.14 L289.04 1204.45 L285.73 1198.64 L280.76 1196.7Z M312.21 1205.9 L316.4 1202.51 L320 1196.7 L320 1239.7" fill="none" stroke="#000" stroke-width="4.6" stroke-linecap="butt" stroke-linejoin="miter" stroke-miterlimit="6"/></g>
<circle cx="250.8" cy="1235.5" r="4.2" fill="#000"/>
<clipPath id="c11"><rect x="-50" y="1194.4" width="1600" height="45.3"/></clipPath><g clip-path="url(#c11)"><path d="M461.51 1196.7 L456.61 1198.64 L453.34 1204.45 L451.7 1214.14 L451.7 1219.96 L453.34 1229.65 L456.61 1235.46 L461.51 1237.4 L464.79 1237.4 L469.69 1235.46 L472.96 1229.65 L474.6 1219.96 L474.6 1214.14 L472.96 1204.45 L469.69 1198.64 L464.79 1196.7Z M513.58 1205.71 L518.46 1202.51 L522.9 1196.7 L522.9 1239.7" fill="none" stroke="#000" stroke-width="4.6" stroke-linecap="butt" stroke-linejoin="miter" stroke-miterlimit="6"/></g>
<circle cx="490.95" cy="1235.45" r="4.25" fill="#000"/>
<clipPath id="c12"><rect x="-50" y="1194.4" width="1600" height="45.3"/></clipPath><g clip-path="url(#c12)"><path d="M704.05 1205.81 L708.54 1202.51 L712.5 1196.7 L712.5 1239.7" fill="none" stroke="#000" stroke-width="4.6" stroke-linecap="butt" stroke-linejoin="miter" stroke-miterlimit="6"/></g>
<clipPath id="c13"><rect x="-50" y="1194.4" width="1600" height="45.3"/></clipPath><g clip-path="url(#c13)"><path d="M904.28 1205.72 L909.12 1202.51 L913.5 1196.7 L913.5 1239.7 M945.86 1196.7 L940.93 1198.64 L937.64 1204.45 L936 1214.14 L936 1219.96 L937.64 1229.65 L940.93 1235.46 L945.86 1237.4 L949.14 1237.4 L954.07 1235.46 L957.36 1229.65 L959 1219.96 L959 1214.14 L957.36 1204.45 L954.07 1198.64 L949.14 1196.7Z" fill="none" stroke="#000" stroke-width="4.6" stroke-linecap="butt" stroke-linejoin="miter" stroke-miterlimit="6"/></g>
<clipPath id="c14"><rect x="-50" y="1194.4" width="1600" height="45.3"/></clipPath><g clip-path="url(#c14)"><path d="M1111.59 1205.74 L1116.38 1202.51 L1120.7 1196.7 L1120.7 1239.7 M1153.23 1196.7 L1148.21 1198.64 L1144.87 1204.45 L1143.2 1214.14 L1143.2 1219.96 L1144.87 1229.65 L1148.21 1235.46 L1153.23 1237.4 L1156.57 1237.4 L1161.59 1235.46 L1164.93 1229.65 L1166.6 1219.96 L1166.6 1214.14 L1164.93 1204.45 L1161.59 1198.64 L1156.57 1196.7Z M1190.47 1196.7 L1185.44 1198.64 L1182.08 1204.45 L1180.4 1214.14 L1180.4 1219.96 L1182.08 1229.65 L1185.44 1235.46 L1190.47 1237.4 L1193.83 1237.4 L1198.86 1235.46 L1202.22 1229.65 L1203.9 1219.96 L1203.9 1214.14 L1202.22 1204.45 L1198.86 1198.64 L1193.83 1196.7Z" fill="none" stroke="#000" stroke-width="4.6" stroke-linecap="butt" stroke-linejoin="miter" stroke-miterlimit="6"/></g>
<clipPath id="c15"><rect x="-50" y="1194.4" width="1600" height="45.3"/></clipPath><g clip-path="url(#c15)"><path d="M1317.52 1205.62 L1322.78 1202.51 L1327.7 1196.7 L1327.7 1239.7 M1360.44 1196.7 L1355.47 1198.64 L1352.16 1204.45 L1350.5 1214.14 L1350.5 1219.96 L1352.16 1229.65 L1355.47 1235.46 L1360.44 1237.4 L1363.76 1237.4 L1368.73 1235.46 L1372.04 1229.65 L1373.7 1219.96 L1373.7 1214.14 L1372.04 1204.45 L1368.73 1198.64 L1363.76 1196.7Z M1397.2 1196.7 L1392.25 1198.64 L1388.95 1204.45 L1387.3 1214.14 L1387.3 1219.96 L1388.95 1229.65 L1392.25 1235.46 L1397.2 1237.4 L1400.5 1237.4 L1405.45 1235.46 L1408.75 1229.65 L1410.4 1219.96 L1410.4 1214.14 L1408.75 1204.45 L1405.45 1198.64 L1400.5 1196.7Z M1434.99 1196.7 L1429.99 1198.64 L1426.66 1204.45 L1425 1214.14 L1425 1219.96 L1426.66 1229.65 L1429.99 1235.46 L1434.99 1237.4 L1438.31 1237.4 L1443.31 1235.46 L1446.64 1229.65 L1448.3 1219.96 L1448.3 1214.14 L1446.64 1204.45 L1443.31 1198.64 L1438.31 1196.7Z" fill="none" stroke="#000" stroke-width="4.6" stroke-linecap="butt" stroke-linejoin="miter" stroke-miterlimit="6"/></g>
<clipPath id="c16"><rect x="-50" y="1316" width="1600" height="45"/></clipPath><g clip-path="url(#c16)"><path d="M573.1 1338.69 L585.84 1338.69 M573.1 1361 L573.1 1318.3 L594 1318.3 M617.3 1338.69 L629.41 1360.72 M606.3 1361 L606.3 1318.3 L620.44 1318.3 L625.16 1320.22 L626.73 1322.15 L628.3 1326 L628.3 1329.84 L626.73 1333.69 L625.16 1335.61 L620.44 1338.69 L606.3 1338.69 M643.3 1338.69 L655.93 1338.69 M664 1358.7 L643.3 1358.7 L643.3 1318.3 L664 1318.3 M714.1 1316 L714.1 1347.16 L715.72 1352.93 L718.96 1356.78 L723.83 1358.7 L727.07 1358.7 L731.94 1356.78 L735.18 1352.93 L736.8 1347.16 L736.8 1316 M754.2 1338.69 L767.39 1338.69 M775.9 1358.7 L754.2 1358.7 L754.2 1318.3 L775.9 1318.3 M810.8 1316 L810.8 1358.7 L788.1 1318.3 L788.1 1361 M851.11 1330.03 L848.54 1324.07 L845.22 1320.22 L841.9 1318.3 L835.26 1318.3 L831.94 1320.22 L828.62 1324.07 L826.96 1327.92 L825.3 1333.69 L825.3 1343.31 L826.96 1349.08 L828.62 1352.93 L831.94 1356.78 L835.26 1358.7 L841.9 1358.7 L845.22 1356.78 L848.54 1352.93 L851.11 1346.97 M861.87 1316.36 L875.25 1337.54 L875.25 1361 M888.63 1316.36 L875.25 1337.54 M943.3 1316 L943.3 1361 M979.2 1316 L979.2 1361 M1001.9 1316 L1001.9 1361 M979.2 1338.69 L1001.9 1338.69" fill="none" stroke="#000" stroke-width="4.6" stroke-linecap="butt" stroke-linejoin="miter" stroke-miterlimit="6"/></g>
<clipPath id="c17"><rect x="-50" y="1329.47" width="1600" height="31.53"/></clipPath><g clip-path="url(#c17)"><path d="M963.44 1330.11 L944.6 1349.66 M950.72 1343.31 L965.18 1360.46 M1039 1358.7 L1018.9 1358.7 L1036.7 1331.77 L1016.6 1331.77" fill="none" stroke="#000" stroke-width="4.6" stroke-linecap="butt" stroke-linejoin="miter" stroke-miterlimit="6"/></g>
<clipPath id="c18"><rect x="-50" y="1305.1" width="1600" height="66.8"/></clipPath><g clip-path="url(#c18)"><path d="M930.52 1303.23 L923.53 1311.29 L920.16 1317.12 L916.79 1324.89 L915.1 1334.61 L915.1 1342.39 L916.79 1352.11 L920.16 1359.88 L923.53 1365.71 L930.52 1373.77 M1047.11 1303.12 L1053.77 1311.29 L1056.94 1317.12 L1060.11 1324.89 L1061.7 1334.61 L1061.7 1342.39 L1060.11 1352.11 L1056.94 1359.88 L1053.77 1365.71 L1047.11 1373.88" fill="none" stroke="#000" stroke-width="4.6" stroke-linecap="butt" stroke-linejoin="miter" stroke-miterlimit="6"/></g>
<path d="M683.14 1318.3 L679.82 1320.22 L676.51 1324.07 L674.86 1327.92 L673.2 1333.69 L673.2 1343.31 L674.86 1349.08 L676.51 1352.93 L679.82 1356.78 L683.14 1358.7 L689.76 1358.7 L693.08 1356.78 L696.39 1352.93 L698.04 1349.08 L699.7 1343.31 L699.7 1333.69 L698.04 1327.92 L696.39 1324.07 L693.08 1320.22 L689.76 1318.3Z M686.61 1349.26 L699.54 1364.29" fill="none" stroke="#000" stroke-width="4.6" stroke-linecap="butt" stroke-linejoin="miter" stroke-miterlimit="6"/>
<g transform="matrix(0 -1 1 0 0 1000)"><clipPath id="c19"><rect x="-50" y="12" width="1600" height="45.1"/></clipPath><g clip-path="url(#c19)"><path d="M110.3 34.74 L122.08 56.83 M99.6 57.1 L99.6 14.3 L113.36 14.3 L117.94 16.23 L119.47 18.16 L121 22.01 L121 25.87 L119.47 29.73 L117.94 31.66 L113.36 34.74 L99.6 34.74 M136.1 12 L136.1 57.1 M154.4 57.1 L154.4 14.3 L167.58 14.3 L171.97 16.23 L173.44 18.16 L174.9 22.01 L174.9 27.8 L173.44 31.66 L171.97 33.59 L167.58 35.51 L154.4 35.51" fill="none" stroke="#000" stroke-width="4.6" stroke-linecap="butt" stroke-linejoin="miter" stroke-miterlimit="6"/></g></g>
<g transform="matrix(0 -1 1 0 0 1000)"><clipPath id="c20"><rect x="-50" y="11.1" width="1600" height="46"/></clipPath><g clip-path="url(#c20)"><path d="M189.4 57.1 L189.4 13.4 L202.39 13.4 L206.71 15.37 L208.16 17.34 L209.6 21.29 L209.6 27.2 L208.16 31.14 L206.71 33.11 L202.39 35.09 L189.4 35.09 M225.6 11.1 L225.6 54.8 L246.3 54.8 M258.5 34.3 L271.64 34.3 M280.1 54.8 L258.5 54.8 L258.5 13.4 L280.1 13.4 M332.6 34.3 L343.82 56.86 M322.4 57.1 L322.4 13.4 L335.51 13.4 L339.89 15.37 L341.34 17.34 L342.8 21.29 L342.8 25.23 L341.34 29.17 L339.89 31.14 L335.51 34.3 L322.4 34.3 M358.6 34.3 L371.74 34.3 M380.2 54.8 L358.6 54.8 L358.6 13.4 L380.2 13.4 M404.8 11.1 L404.8 44.94 L403.18 50.86 L401.56 52.83 L398.32 54.8 L395.08 54.8 L391.84 52.83 L390.22 50.86 L388.6 44.94 L388.6 38.7 M422.4 34.3 L435.54 34.3 M444 54.8 L422.4 54.8 L422.4 13.4 L444 13.4 M477.74 25.4 L475.35 19.31 L472.24 15.37 L469.13 13.4 L462.92 13.4 L459.81 15.37 L456.71 19.31 L455.15 23.26 L453.6 29.17 L453.6 39.03 L455.15 44.94 L456.71 48.89 L459.81 52.83 L462.92 54.8 L469.13 54.8 L472.24 52.83 L475.35 48.89 L477.74 42.8 M499.7 13.4 L499.7 57.1 M487.3 13.4 L512.1 13.4 M524.55 11.1 L524.55 57.1 M549.03 13.4 L545.85 15.37 L542.67 19.31 L541.09 23.26 L539.5 29.17 L539.5 39.03 L541.09 44.94 L542.67 48.89 L545.85 52.83 L549.03 54.8 L555.38 54.8 L558.55 52.83 L561.73 48.89 L563.31 44.94 L564.9 39.03 L564.9 29.17 L563.31 23.26 L561.73 19.31 L558.55 15.37 L555.38 13.4Z M601.7 11.1 L601.7 54.8 L579.4 13.4 L579.4 57.1 M678.6 11.1 L678.6 57.1 M678.6 33.11 L675.1 29.17 L671.6 27.2 L666.35 27.2 L662.85 29.17 L659.35 33.11 L657.6 39.03 L657.6 42.97 L659.35 48.89 L662.85 52.83 L666.35 54.8 L671.6 54.8 L675.1 52.83 L678.6 48.89 M696.4 34.3 L710.16 34.3 L714.74 35.09 L716.27 37.06 L717.8 41 L717.8 46.91 L716.27 50.86 L714.74 52.83 L710.16 54.8 L696.4 54.8 L696.4 13.4 L710.16 13.4 L714.74 15.37 L716.27 17.34 L717.8 21.29 L717.8 25.23 L716.27 29.17 L714.74 31.14 L710.16 34.3" fill="none" stroke="#000" stroke-width="4.6" stroke-linecap="butt" stroke-linejoin="miter" stroke-miterlimit="6"/></g></g>
<g transform="matrix(0 -1 1 0 0 1000)"><clipPath id="c21"><rect x="-50" y="1" width="1600" height="66"/></clipPath><g clip-path="url(#c21)"><path d="M647.12 -1.11 L640.91 7.14 L638.03 12.89 L635.14 20.57 L633.7 30.16 L633.7 37.84 L635.14 47.43 L638.03 55.11 L640.91 60.86 L647.12 69.11 M727.03 -0.91 L733.86 7.14 L737.11 12.89 L740.37 20.57 L742 30.16 L742 37.84 L740.37 47.43 L737.11 55.11 L733.86 60.86 L727.03 68.91" fill="none" stroke="#000" stroke-width="4.6" stroke-linecap="butt" stroke-linejoin="miter" stroke-miterlimit="6"/></g></g>
<clipPath id="c22"><rect x="-50" y="222" width="1600" height="39.9"/></clipPath><g clip-path="url(#c22)"><path d="M715.95 222 L715.95 261.9 M827.36 232.17 L831.03 229.16 L834.15 224.05 L834.15 261.9 M864.56 224.05 L860.26 225.75 L857.39 230.87 L855.95 239.39 L855.95 244.51 L857.39 253.03 L860.26 258.15 L864.56 259.85 L867.44 259.85 L871.74 258.15 L874.61 253.03 L876.05 244.51 L876.05 239.39 L874.61 230.87 L871.74 225.75 L867.44 224.05Z M899.66 224.05 L895.36 225.75 L892.49 230.87 L891.05 239.39 L891.05 244.51 L892.49 253.03 L895.36 258.15 L899.66 259.85 L902.54 259.85 L906.84 258.15 L909.71 253.03 L911.15 244.51 L911.15 239.39 L909.71 230.87 L906.84 225.75 L902.54 224.05Z M986.34 247.92 L1000.66 247.92 M981.43 261.8 L993.5 224.05 L1005.57 261.8" fill="none" stroke="#000" stroke-width="4.1" stroke-linecap="butt" stroke-linejoin="miter" stroke-miterlimit="6"/></g>
<clipPath id="c23"><rect x="-50" y="234.8" width="1600" height="27.1"/></clipPath><g clip-path="url(#c23)"><path d="M938.05 233.93 L938.05 261.9 M938.05 242.8 L942.13 237.69 L944.85 235.98 L948.92 235.98 L951.64 237.69 L953 242.8 L953 261.9 M953 242.8 L957.08 237.69 L959.8 235.98 L963.87 235.98 L966.59 237.69 L967.95 242.8 L967.95 261.9" fill="none" stroke="#000" stroke-width="4.1" stroke-linecap="butt" stroke-linejoin="miter" stroke-miterlimit="6"/></g>
<clipPath id="c24"><rect x="-50" y="247" width="1600" height="35.8"/></clipPath><g clip-path="url(#c24)"><path d="M725.75 247 L725.75 281.05 L743.1 281.05" fill="none" stroke="#000" stroke-width="3.5" stroke-linecap="butt" stroke-linejoin="miter" stroke-miterlimit="6"/></g>
<path d="M767.9 236H796 M767.9 249.2H796" fill="none" stroke="#000" stroke-width="4.1" stroke-linecap="butt" stroke-linejoin="miter" stroke-miterlimit="6"/>
<clipPath id="c25"><rect x="-50" y="465.9" width="1600" height="40"/></clipPath><g clip-path="url(#c25)"><path d="M350.05 465.9 L350.05 505.9 M458.96 478.55 L458.96 474.79 L460.28 471.37 L461.59 469.66 L464.22 467.95 L469.48 467.95 L472.11 469.66 L473.42 471.37 L474.74 474.79 L474.74 478.21 L473.42 481.63 L470.79 486.75 L457.65 503.85 L478.1 503.85 M509.97 467.95 L493.78 467.95 L492.36 483.34 L493.78 481.63 L498.02 479.92 L502.26 479.92 L506.51 481.63 L509.34 485.05 L510.75 490.17 L510.75 493.59 L509.34 498.72 L506.51 502.14 L502.26 503.85 L498.02 503.85 L493.78 502.14 L492.36 500.43 L490.17 495.12 M534.58 467.95 L530.31 469.66 L527.47 474.79 L526.05 483.34 L526.05 488.46 L527.47 497.01 L530.31 502.14 L534.58 503.85 L537.42 503.85 L541.69 502.14 L544.53 497.01 L545.95 488.46 L545.95 483.34 L544.53 474.79 L541.69 469.66 L537.42 467.95Z M621.16 491.88 L634.84 491.88 M616.45 505.81 L628 467.95 L639.55 505.81" fill="none" stroke="#000" stroke-width="4.1" stroke-linecap="butt" stroke-linejoin="miter" stroke-miterlimit="6"/></g>
<clipPath id="c26"><rect x="-50" y="477.9" width="1600" height="28"/></clipPath><g clip-path="url(#c26)"><path d="M572.85 477.87 L572.85 505.9 M572.85 486.75 L576.94 481.63 L579.67 479.92 L583.76 479.92 L586.49 481.63 L587.85 486.75 L587.85 505.9 M587.85 486.75 L591.94 481.63 L594.67 479.92 L598.76 479.92 L601.49 481.63 L602.85 486.75 L602.85 505.9" fill="none" stroke="#000" stroke-width="4.1" stroke-linecap="butt" stroke-linejoin="miter" stroke-miterlimit="6"/></g>
<clipPath id="c27"><rect x="-50" y="490.7" width="1600" height="36.3"/></clipPath><g clip-path="url(#c27)"><path d="M359.85 490.7 L359.85 525.25 L377 525.25" fill="none" stroke="#000" stroke-width="3.5" stroke-linecap="butt" stroke-linejoin="miter" stroke-miterlimit="6"/></g>
<path d="M402 478.9H430 M402 492H430" fill="none" stroke="#000" stroke-width="4.1" stroke-linecap="butt" stroke-linejoin="miter" stroke-miterlimit="6"/>
<clipPath id="c28"><rect x="-50" y="962.1" width="1600" height="39.8"/></clipPath><g clip-path="url(#c28)"><path d="M337.39 962.21 L350.1 999.85 L362.81 962.21 M479.53 971.15 L477.35 965.85 L473.15 964.15 L470.35 964.15 L466.15 965.85 L463.35 970.95 L461.95 979.45 L461.95 987.95 L463.35 994.75 L466.15 998.15 L470.35 999.85 L471.75 999.85 L475.95 998.15 L478.75 994.75 L480.15 989.65 L480.15 987.95 L478.75 982.85 L475.95 979.45 L471.75 977.75 L470.35 977.75 L466.15 979.45 L463.35 982.85 L461.95 987.95 M492.5 962.21 L505.15 999.85 L517.8 962.21" fill="none" stroke="#000" stroke-width="4.1" stroke-linecap="butt" stroke-linejoin="miter" stroke-miterlimit="6"/></g>
<clipPath id="c29"><rect x="-50" y="986.9" width="1600" height="36"/></clipPath><g clip-path="url(#c29)"><path d="M369 986.9 L369 1022.9 M401.25 986.9 L401.25 1021.15 L382.95 988.65 L382.95 1022.9" fill="none" stroke="#000" stroke-width="3.5" stroke-linecap="butt" stroke-linejoin="miter" stroke-miterlimit="6"/></g>
<path d="M418.9 975.9H447.1 M418.9 989H447.1" fill="none" stroke="#000" stroke-width="4.1" stroke-linecap="butt" stroke-linejoin="miter" stroke-miterlimit="6"/>
<clipPath id="c30"><rect x="-50" y="1054.9" width="1600" height="40.2"/></clipPath><g clip-path="url(#c30)"><path d="M353.65 1067.43 L351.39 1062.11 L348.47 1058.67 L345.55 1056.95 L339.71 1056.95 L336.79 1058.67 L333.87 1062.11 L332.41 1065.55 L330.95 1070.7 L330.95 1079.3 L332.41 1084.45 L333.87 1087.89 L336.79 1091.33 L339.71 1093.05 L345.55 1093.05 L348.47 1091.33 L351.39 1087.89 L353.65 1082.57 M435.14 1067.6 L435.14 1063.83 L436.44 1060.39 L437.73 1058.67 L440.31 1056.95 L445.49 1056.95 L448.07 1058.67 L449.36 1060.39 L450.66 1063.83 L450.66 1067.26 L449.36 1070.7 L446.78 1075.86 L433.85 1093.05 L454 1093.05 M490.06 1067.6 L490.06 1063.83 L491.38 1060.39 L492.69 1058.67 L495.32 1056.95 L500.58 1056.95 L503.21 1058.67 L504.52 1060.39 L505.84 1063.83 L505.84 1067.26 L504.52 1070.7 L501.89 1075.86 L488.75 1093.05 L509.2 1093.05 M581.15 1075.17 L591.83 1075.17 M581.15 1095.1 L581.15 1056.95 L600.2 1056.95" fill="none" stroke="#000" stroke-width="4.1" stroke-linecap="butt" stroke-linejoin="miter" stroke-miterlimit="6"/></g>
<circle cx="468.55" cy="1091.35" r="3.75" fill="#000"/>
<clipPath id="c31"><rect x="-50" y="1067.9" width="1600" height="39"/></clipPath><g clip-path="url(#c31)"><path d="M545.1 1064 L543.3 1078 L541.2 1089.8 L538.5 1098.5 L533.4 1109.5 M540.6 1092.9 L550.2 1092.9 L558.6 1084.6 M562.3 1064 L560.6 1077 L558.9 1086 L558.7 1089.6 L560.2 1092.4 L563.4 1092.9 L565.3 1090.3 L566.2 1086" fill="none" stroke="#000" stroke-width="3.9" stroke-linecap="butt" stroke-linejoin="round" stroke-miterlimit="6"/></g>
<clipPath id="c32"><rect x="-50" y="1080.1" width="1600" height="35.8"/></clipPath><g clip-path="url(#c32)"><path d="M359.95 1080.1 L359.95 1114.15 L376 1114.15" fill="none" stroke="#000" stroke-width="3.5" stroke-linecap="butt" stroke-linejoin="miter" stroke-miterlimit="6"/></g>
<path d="M390.1 1069H418 M390.1 1082.1H418" fill="none" stroke="#000" stroke-width="4.1" stroke-linecap="butt" stroke-linejoin="miter" stroke-miterlimit="6"/>
<text class="t" x="160" y="43.5" font-size="56" >90</text>
<text class="t" x="160" y="183.5" font-size="56" >80</text>
<text class="t" x="160" y="323.5" font-size="56" >70</text>
<text class="t" x="160" y="463.5" font-size="56" >60</text>
<text class="t" x="160" y="603.5" font-size="56" >50</text>
<text class="t" x="160" y="743.5" font-size="56" >40</text>
<text class="t" x="160" y="883.5" font-size="56" >30</text>
<text class="t" x="160" y="1023.5" font-size="56" >20</text>
<text class="t" x="160" y="1163.5" font-size="56" >10</text>
<text class="t" x="209" y="1238" font-size="56" >0.01</text>
<text class="t" x="449" y="1238" font-size="56" >0.1</text>
<text class="t" x="700" y="1238" font-size="56" >1</text>
<text class="t" x="903" y="1238" font-size="56" >10</text>
<text class="t" x="1110" y="1238" font-size="56" >100</text>
<text class="t" x="1317" y="1238" font-size="56" >1000</text>
<text class="t" x="570" y="1359" font-size="56" >FREQUENCY (kHz)</text>
<text class="t" x="0" y="0" font-size="56" transform="translate(56 903) rotate(-90)">RIPPLE REJECTION (dB)</text>
<text class="t" x="713" y="260" font-size="48" >I<tspan dy="20" font-size="40">L</tspan><tspan dy="-20"> = 100 mA</tspan></text>
<text class="t" x="347" y="504" font-size="48" >I<tspan dy="20" font-size="40">L</tspan><tspan dy="-20"> = 250 mA</tspan></text>
<text class="t" x="336" y="1000" font-size="48" >V<tspan dy="20" font-size="40">IN</tspan><tspan dy="-20"> = 6V</tspan></text>
<text class="t" x="329" y="1093" font-size="48" >C<tspan dy="20" font-size="40">L</tspan><tspan dy="-20"> = 2.2 &#956;F</tspan></text>
</svg>
</body>
</html>
